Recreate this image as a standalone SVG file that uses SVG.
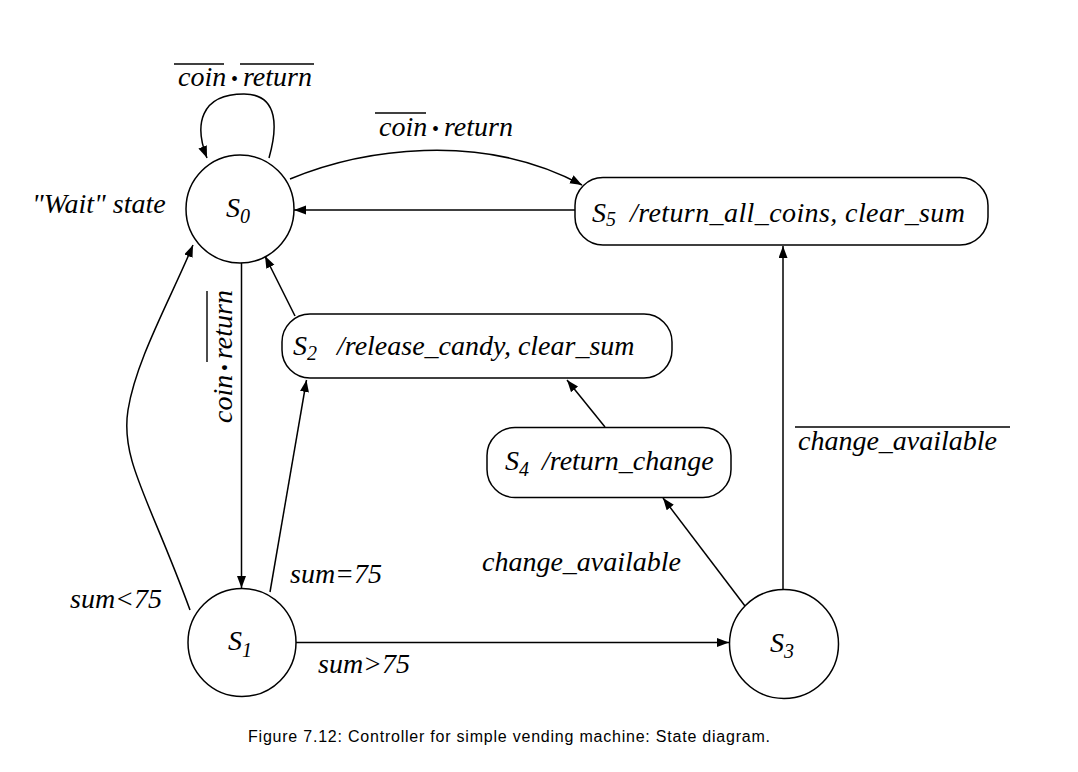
<svg xmlns="http://www.w3.org/2000/svg" width="1078" height="772" viewBox="0 0 1078 772">
<style>
.bg{fill:#fff}
.node{fill:#fff;stroke:#000;stroke-width:1.5}
.edge{fill:none;stroke:#000;stroke-width:1.5}
.bar{stroke:#000;stroke-width:1.4}
text{font-family:"Liberation Serif","Times New Roman",serif;font-style:italic;font-size:28px;fill:#000}
.sub{font-size:20px}
.dot{font-size:20px;font-style:normal}
.cap{font-family:"Liberation Sans",Arial,sans-serif;font-style:normal;font-size:16px}
</style>
<defs>
<marker id="arr" markerUnits="userSpaceOnUse" markerWidth="13" markerHeight="10" refX="12" refY="4.5" orient="auto">
<path d="M0,0 L12,4.5 L0,9 z" fill="#000"/>
</marker>
</defs>
<rect class="bg" x="0" y="0" width="1078" height="772"/>

<g id="connectors">
<path class="edge" marker-end="url(#arr)" d="M269,158 C277,130 280,94 244,94 C200,94 194,125 207,158"/>
<path class="edge" marker-end="url(#arr)" d="M290,179 C360,150 480,130 582,185"/>
<path class="edge" marker-end="url(#arr)" d="M575,210 L294,210"/>
<path class="edge" marker-end="url(#arr)" d="M241.5,263 L241.5,588"/>
<path class="edge" marker-end="url(#arr)" d="M190,610 C150,500 120,460 128,410 C136,360 170,300 193,245"/>
<path class="edge" marker-end="url(#arr)" d="M270,592 L306.5,380"/>
<path class="edge" marker-end="url(#arr)" d="M295,316 L265,256"/>
<path class="edge" marker-end="url(#arr)" d="M605,427 L567,380"/>
<path class="edge" marker-end="url(#arr)" d="M745,606 L663,498"/>
<path class="edge" marker-end="url(#arr)" d="M783,590 L783,246"/>
<path class="edge" marker-end="url(#arr)" d="M296,642.5 L729,642.5"/>
</g>

<g id="labels">
<text x="178" y="86"><tspan x="178">coin</tspan><tspan class="dot" x="231">•</tspan><tspan x="243">return</tspan></text>
<line class="bar" x1="174" y1="64" x2="224" y2="64"/>
<line class="bar" x1="240" y1="64" x2="314" y2="64"/>

<text x="379" y="136"><tspan x="379">coin</tspan><tspan class="dot" x="432">•</tspan><tspan x="444">return</tspan></text>
<line class="bar" x1="375" y1="113" x2="426" y2="113"/>

<g transform="translate(232,423) rotate(-90)">
<text x="0" y="0"><tspan x="0">coin</tspan><tspan class="dot" x="52">•</tspan><tspan x="64">return</tspan></text>
<line class="bar" x1="61" y1="-25" x2="132" y2="-25"/>
</g>

<text x="32" y="213">"Wait" state</text>
<text x="70" y="608">sum&lt;75</text>
<text x="290" y="583">sum=75</text>
<text x="318" y="673">sum&gt;75</text>
<text x="482" y="571">change_available</text>
<text x="798" y="450">change_available</text>
<line class="bar" x1="795" y1="427" x2="1010" y2="427"/>
</g>

<g id="S0">
<circle class="node" cx="240" cy="209" r="54"/>
<text x="226" y="217">S<tspan class="sub" dy="6">0</tspan></text>
</g>
<g id="S1">
<circle class="node" cx="242" cy="642.5" r="54"/>
<text x="228" y="650">S<tspan class="sub" dy="7">1</tspan></text>
</g>
<g id="S3">
<circle class="node" cx="784" cy="644" r="54.5"/>
<text x="770" y="652">S<tspan class="sub" dy="6">3</tspan></text>
</g>
<g id="S2">
<rect class="node" x="282" y="314" width="390" height="64" rx="28" ry="28"/>
<text x="293" y="355">S<tspan class="sub" dy="5">2</tspan><tspan x="337" dy="-5">/release_candy, clear_sum</tspan></text>
</g>
<g id="S4">
<rect class="node" x="487" y="427.5" width="244" height="70" rx="28" ry="28"/>
<text x="505" y="470">S<tspan class="sub" dy="6">4</tspan><tspan x="542" dy="-6">/return_change</tspan></text>
</g>
<g id="S5">
<rect class="node" x="575" y="177.5" width="413" height="67.5" rx="28" ry="28"/>
<text x="592" y="222">S<tspan class="sub" dy="4">5</tspan><tspan x="630" dy="-4" textLength="335">/return_all_coins, clear_sum</tspan></text>
</g>

<text class="cap" x="248" y="742" textLength="522">Figure 7.12: Controller for simple vending machine: State diagram.</text>
</svg>
